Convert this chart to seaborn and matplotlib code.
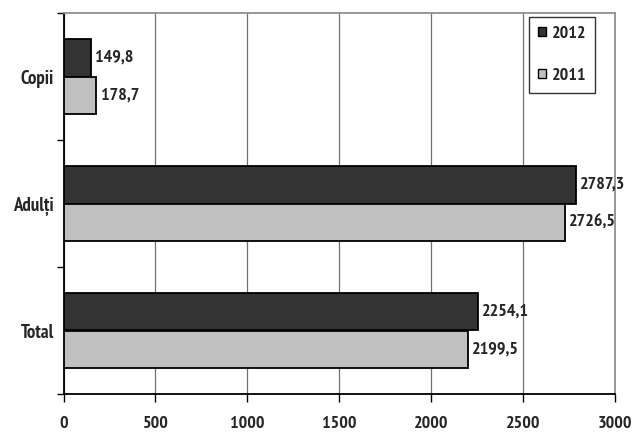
import matplotlib
matplotlib.use("Agg")
import matplotlib.pyplot as plt
import seaborn as sns
import pandas as pd
from matplotlib.ticker import FixedLocator
from matplotlib import font_manager

categories = ["Copii", "Adulți", "Total"]
years = ["2012", "2011"]
values_2012 = [149.8, 2787.3, 2254.1]
values_2011 = [178.7, 2726.5, 2199.5]
x_ticks = [0, 500, 1000, 1500, 2000, 2500, 3000]

colors = {"2012": "#333333", "2011": "#c0c0c0"}

df = pd.DataFrame({
    "categorie": categories * 2,
    "an": ["2012"] * 3 + ["2011"] * 3,
    "valoare": values_2012 + values_2011,
})

sns.set_style("white")


def is_bold(w):
    if isinstance(w, str):
        return w in ("bold", "heavy", "black", "extra bold", "demibold", "semibold")
    return w >= 600


bold_faces = {f.name for f in font_manager.fontManager.ttflist
              if is_bold(f.weight) and "italic" not in f.style}
narrow = [n for n in ["Liberation Sans Narrow", "Arial Narrow", "Archivo Narrow",
                      "PT Sans Narrow", "Roboto Condensed", "Encode Sans Condensed",
                      "IBM Plex Sans Condensed", "DejaVu Sans Condensed"]
          if n in bold_faces]
font = narrow[:1] + ["DejaVu Sans"]
plt.rcParams["font.family"] = font
plt.rcParams["font.weight"] = "bold"

fig = plt.figure(figsize=(6.39, 4.33), dpi=100)
ax = fig.add_axes([63.5 / 639, 1 - 394 / 433, 551.5 / 639, 381 / 433])

sns.barplot(data=df, y="categorie", x="valoare", hue="an",
            order=categories, hue_order=years, palette=colors,
            orient="h", width=0.59, edgecolor="black", linewidth=1.3,
            ax=ax, zorder=3)

ax.set_xlim(0, 3000)
ax.set_ylim(2.5, -0.5)
ax.set_xlabel("")
ax.set_ylabel("")

# vertical grid
ax.xaxis.set_major_locator(FixedLocator(x_ticks))
ax.grid(axis="x", color="#707070", linewidth=0.9, zorder=0)
ax.grid(axis="y", visible=False)
ax.set_xticklabels([str(t) for t in x_ticks], fontsize=13, fontweight="bold")
ax.tick_params(axis="x", direction="out", length=6, width=1, color="black",
               bottom=True, pad=10)

# category labels, ticks at band boundaries
ax.set_yticks([0, 1, 2])
ax.set_yticklabels(categories, fontsize=13.5, fontweight="bold")
ax.tick_params(axis="y", which="major", length=0, pad=7)
ax.yaxis.set_minor_locator(FixedLocator([-0.5, 0.5, 1.5, 2.5]))
ax.tick_params(axis="y", which="minor", direction="out", length=5, width=1,
               color="black", left=True)

for side in ["left", "bottom"]:
    ax.spines[side].set_color("black")
    ax.spines[side].set_linewidth(1.3)
for side in ["top", "right"]:
    ax.spines[side].set_color("#909090")
    ax.spines[side].set_linewidth(1.3)

# value labels
for container in ax.containers:
    labels = [f"{v:.1f}".replace(".", ",") for v in container.datavalues]
    ax.bar_label(container, labels=labels, padding=3, fontsize=13,
                 fontweight="bold", zorder=5)

leg = ax.legend(loc="upper right", bbox_to_anchor=(0.9637, 0.99),
                frameon=True, fancybox=False, edgecolor="black",
                prop={"weight": "bold", "size": 13, "family": font},
                handlelength=0.45, handleheight=0.45, handletextpad=0.3,
                labelspacing=1.45, borderpad=0.5, borderaxespad=0)
leg.get_frame().set_linewidth(1.0)
for h in leg.legend_handles:
    h.set_linewidth(1.0)

fig.savefig("out.png", dpi=100, facecolor="white")
